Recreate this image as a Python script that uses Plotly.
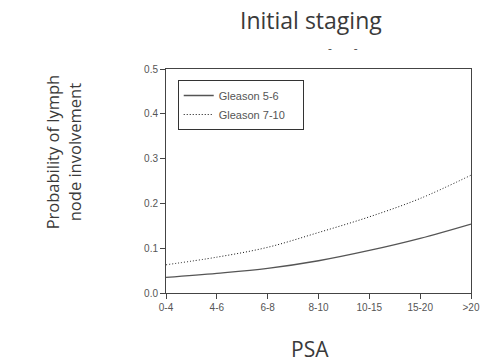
import plotly.graph_objects as go

categories = ["0-4", "4-6", "6-8", "8-10", "10-15", "15-20", ">20"]
gleason_5_6 = [0.035, 0.044, 0.055, 0.072, 0.095, 0.122, 0.154]
gleason_7_10 = [0.063, 0.080, 0.102, 0.135, 0.170, 0.211, 0.263]
y_ticks = [0.0, 0.1, 0.2, 0.3, 0.4, 0.5]

x_idx = list(range(len(categories)))

fig = go.Figure()
fig.add_trace(go.Scatter(x=x_idx, y=gleason_5_6, mode="lines",
                         name="Gleason 5-6\u00a0\u00a0\u00a0\u00a0",
                         line=dict(color="#555555", width=1.3, shape="spline")))
fig.add_trace(go.Scatter(x=x_idx, y=gleason_7_10, mode="lines",
                         name="Gleason 7-10\u00a0\u00a0\u00a0\u00a0",
                         line=dict(color="#111111", width=1, dash="1px,2px", shape="spline")))

tick_font = dict(family="Liberation Sans, Arial", size=10, color="#555555")
label_color = "#3a3a3a"

W, H = 492, 364
ML, MR, MT, MB = 166, 14, 69, 71
pw = W - ML - MR
ph = H - MT - MB
def px_x(x): return (x - ML) / pw
def px_y(y): return (H - MB - y) / ph

fig.update_layout(
    width=W, height=H,
    margin=dict(l=ML, r=MR, t=MT, b=MB),
    paper_bgcolor="white", plot_bgcolor="white",
    showlegend=True,
    legend=dict(x=px_x(178), y=px_y(80), xanchor="left", yanchor="top",
                bordercolor="#333333", borderwidth=1, bgcolor="white",
                font=dict(family="Liberation Sans, Arial", size=11, color="#555555"),
                tracegroupgap=0),
    xaxis=dict(range=[0, 6], tickmode="array", tickvals=x_idx, ticktext=categories,
               showline=True, linecolor="#444444", linewidth=1, mirror=True,
               ticks="outside", ticklen=5, tickcolor="#444444",
               showgrid=False, zeroline=False, tickfont=tick_font),
    yaxis=dict(range=[0, 0.5], tickmode="array", tickvals=y_ticks,
               ticktext=[f"{v:.1f}" for v in y_ticks],
               showline=True, linecolor="#444444", linewidth=1, mirror=True,
               ticks="outside", ticklen=5, tickcolor="#444444",
               showgrid=False, zeroline=False, tickfont=tick_font),
    annotations=[
        dict(text="Initial staging", xref="paper", yref="paper",
             x=px_x(314), y=px_y(20), xanchor="center", yanchor="middle",
             showarrow=False,
             font=dict(family="Open Sans", size=23, color=label_color)),
        dict(text="PSA", xref="paper", yref="paper",
             x=px_x(313), y=px_y(349), xanchor="center", yanchor="middle",
             showarrow=False,
             font=dict(family="Open Sans", size=21, color=label_color)),
        dict(text="Probability of lymph<br>node involvement", xref="paper", yref="paper",
             x=px_x(61), y=px_y(152), xanchor="center", yanchor="middle",
             showarrow=False, textangle=-90,
             font=dict(family="Open Sans", size=16.5, color=label_color)),
        dict(text="-\u00a0\u00a0\u00a0\u00a0\u00a0\u00a0\u00a0-", xref="paper", yref="paper",
             x=px_x(347), y=px_y(48), xanchor="center", yanchor="middle",
             showarrow=False,
             font=dict(family="Open Sans", size=12, color="#555555")),
    ],
)

fig.write_html("out.html", post_script="document.body.style.margin='0';",
               config={"displayModeBar": False})
